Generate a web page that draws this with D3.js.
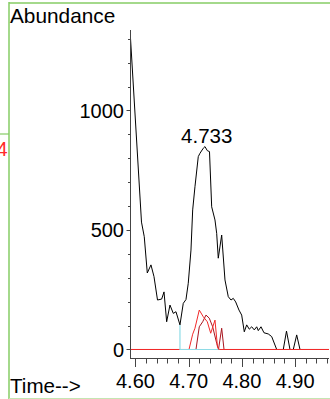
<!DOCTYPE html>
<html>
<head>
<meta charset="utf-8">
<script src="https://cdn.jsdelivr.net/npm/d3@7/dist/d3.min.js"></script>
<style>
  html, body { margin: 0; padding: 0; background: #fff; }
  svg { display: block; }
  text { font-family: "Liberation Sans", Arial, sans-serif; fill: #000; }
</style>
</head>
<body>
<svg id="chart" width="330" height="399"></svg>
<script>
// ---- data ----
const ticTimes = [4.5897, 4.6113, 4.6165, 4.6222, 4.6291, 4.6348, 4.6414, 4.6492, 4.6536, 4.6586,
  4.6648, 4.6711, 4.6761, 4.6836, 4.6898, 4.6949, 4.6992, 4.7043, 4.7075, 4.7118,
  4.7180, 4.7212, 4.7274, 4.7306, 4.7350, 4.7391, 4.7432, 4.7494, 4.7526, 4.7556,
  4.7620, 4.7682, 4.7744, 4.7795, 4.7838, 4.7883, 4.7945, 4.7996, 4.8045, 4.8090,
  4.8139, 4.8184, 4.8233, 4.8278, 4.8308, 4.8359, 4.8415, 4.8496, 4.8560, 4.8654,
  4.8778, 4.8838, 4.8904, 4.8966, 4.9030, 4.9092, 4.9637];
const ticValues = [1337, 533, 472, 320, 354, 305, 207, 211, 241, 116,
  186, 151, 158, 103, 193, 209, 277, 416, 584, 681,
  807, 821, 842, 849, 832, 828, 597, 542, 486, 382,
  479, 291, 221, 207, 214, 199, 165, 144, 74, 103,
  85, 95, 82, 95, 79, 95, 70, 65, 54, 0,
  0, 77, 0, 0, 61, 0, 0];

const ion1Times = [4.5897, 4.7006, 4.7075, 4.7118, 4.7199, 4.7274, 4.7350, 4.7414, 4.7494, 4.7541, 4.7575, 4.9637];
const ion1Values = [0, 0, 64, 89, 165, 137, 116, 68, 123, 12, 0, 0];

const ion2Times = [4.5897, 4.7137, 4.7199, 4.7263, 4.7325, 4.7387, 4.7451, 4.7526, 4.7560, 4.7620, 4.7664, 4.9637];
const ion2Values = [0, 0, 95, 116, 144, 131, 95, 26, 0, 89, 0, 0];

const baselineTimes = [4.6836, 4.6836, 4.7556];
const baselineValues = [103, 0, 0];

const peakLabel = "4.733";
const peakTime = 4.733;
const peakValue = 849;

const xMajorTicks = [4.60, 4.70, 4.80, 4.90];
const xTickLabels = ["4.60", "4.70", "4.80", "4.90"];
const yMajorTicks = [0, 500, 1000];
const yTickLabels = ["0", "500", "1000"];
const yTitle = "Abundance";
const xTitle = "Time-->";

// ---- drawing ----
const svg = d3.select("#chart");
const x = d3.scaleLinear().domain([4.5897, 4.9637]).range([130, 329]);
const y = d3.scaleLinear().domain([-35.6, 1336.8]).range([358, 30]);

// frame decorations
const green = "#86cc64";
svg.append("line").attr("x1", 9).attr("x2", 330).attr("y1", 3).attr("y2", 3)
  .attr("stroke", green).attr("stroke-width", 1.5);
svg.append("line").attr("x1", 9).attr("x2", 9).attr("y1", 2).attr("y2", 399)
  .attr("stroke", green).attr("stroke-width", 1.5);
svg.append("line").attr("x1", 0).attr("x2", 9).attr("y1", 134).attr("y2", 134)
  .attr("stroke", green).attr("stroke-width", 1.2);
svg.append("line").attr("x1", 9).attr("x2", 330).attr("y1", 398.5).attr("y2", 398.5)
  .attr("stroke", "#c4e6b2").attr("stroke-width", 1);
svg.append("text").attr("x", 7.5).attr("y", 156).attr("text-anchor", "end")
  .style("fill", "#ff2a2a").style("font-size", "20px").text("4");

// clip
svg.append("clipPath").attr("id", "plotclip").append("rect")
  .attr("x", 130).attr("y", 30).attr("width", 200).attr("height", 328);
const plot = svg.append("g").attr("clip-path", "url(#plotclip)");

const line = d3.line().x(d => x(d[0])).y(d => y(d[1]));
const zip = (a, b) => a.map((t, i) => [t, b[i]]);

plot.append("path").datum(zip(ticTimes, ticValues)).attr("d", line)
  .attr("fill", "none").attr("stroke", "#000").attr("stroke-width", 1);
plot.append("path").datum(zip(ion2Times, ion2Values)).attr("d", line)
  .attr("fill", "none").attr("stroke", "#a8141e").attr("stroke-width", 1);
plot.append("path").datum(zip(ion1Times, ion1Values)).attr("d", line)
  .attr("fill", "none").attr("stroke", "#f22a2a").attr("stroke-width", 1);
plot.append("path").datum(zip(baselineTimes, baselineValues)).attr("d", line)
  .attr("fill", "none").attr("stroke", "#8edbe6").attr("stroke-width", 1.2);

// axes
const axisColor = "#444";
const xMinor = d3.range(0, 19).map(i => 4.60 + i * 0.02);
const yMinor = d3.range(0, 14).map(i => i * 100);

const yAxisG = svg.append("g");
yAxisG.append("line").attr("x1", 130.5).attr("x2", 130.5).attr("y1", 30).attr("y2", 358.5)
  .attr("stroke", axisColor).attr("stroke-width", 1);
yAxisG.selectAll("line.minor").data(yMinor).enter().append("line")
  .attr("x1", d => yMajorTicks.includes(d) ? 126.5 : 128)
  .attr("x2", 130.5)
  .attr("y1", d => Math.round(y(d)) + 0.5).attr("y2", d => Math.round(y(d)) + 0.5)
  .attr("stroke", axisColor).attr("stroke-width", 1);
yAxisG.selectAll("text").data(yMajorTicks).enter().append("text")
  .attr("x", 124).attr("y", d => y(d) + 7.5).attr("text-anchor", "end")
  .style("font-size", "20px").text((d, i) => yTickLabels[i]);

const xAxisG = svg.append("g");
xAxisG.append("line").attr("x1", 130).attr("x2", 329).attr("y1", 358.5).attr("y2", 358.5)
  .attr("stroke", axisColor).attr("stroke-width", 1);
xAxisG.selectAll("line.tick").data(xMinor).enter().append("line")
  .attr("x1", d => Math.round(x(d)) + 0.5).attr("x2", d => Math.round(x(d)) + 0.5)
  .attr("y1", 358.5)
  .attr("y2", d => xMajorTicks.some(m => Math.abs(m - d) < 1e-6) ? 367 : 363.5)
  .attr("stroke", axisColor).attr("stroke-width", 1);
xAxisG.selectAll("text").data(xMajorTicks).enter().append("text")
  .attr("x", d => x(d)).attr("y", 388).attr("text-anchor", "middle")
  .style("font-size", "20px").text((d, i) => xTickLabels[i]);

// titles
svg.append("text").attr("x", 10).attr("y", 23).style("font-size", "20.8px").text(yTitle);
svg.append("text").attr("x", 10).attr("y", 393).style("font-size", "20.6px").text(xTitle);

// peak label
svg.append("text").attr("x", x(peakTime) + 0.5).attr("y", y(peakValue) - 4)
  .attr("text-anchor", "middle").style("font-size", "20.5px").text(peakLabel);
</script>
</body>
</html>
